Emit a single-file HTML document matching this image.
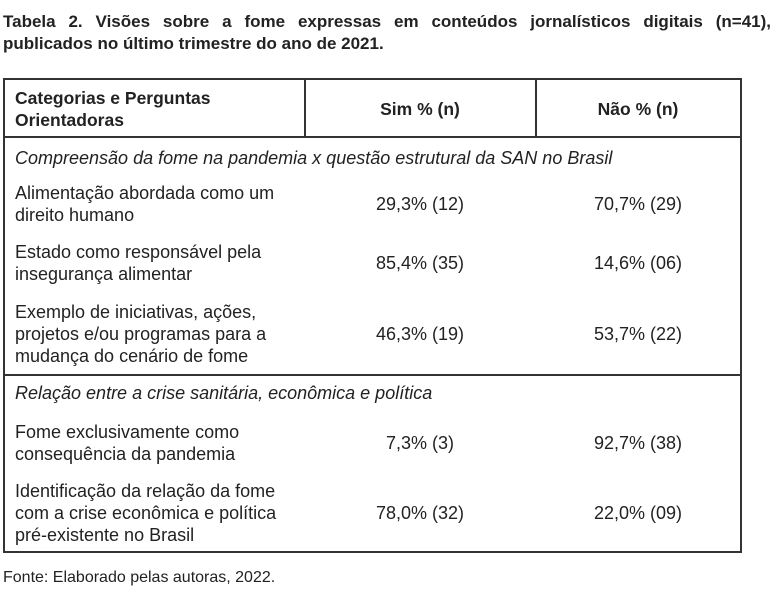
<!DOCTYPE html>
<html><head><meta charset="utf-8"><style>
body{margin:0;width:778px;height:614px;background:#fff;font-family:"Liberation Sans",sans-serif;color:#222;position:relative;overflow:hidden}
.a{position:absolute;white-space:nowrap}
.t{font-size:17px;font-weight:bold;line-height:22px}
.b{font-size:18px;line-height:22px}
.c{text-align:center;width:220px}
.l{position:absolute;background:#333}
</style></head><body>
<div class="a t" style="left:3px;top:11px;width:768px;text-align:justify;text-align-last:justify;white-space:normal">Tabela 2. Visões sobre a fome expressas em conteúdos jornalísticos digitais (n=41),</div>
<div class="a t" style="left:3px;top:33px">publicados no último trimestre do ano de 2021.</div>

<div class="l" style="left:3px;top:78px;width:739px;height:2px"></div>
<div class="l" style="left:3px;top:136px;width:739px;height:2px"></div>
<div class="l" style="left:3px;top:374px;width:739px;height:2px"></div>
<div class="l" style="left:3px;top:551px;width:739px;height:2px"></div>
<div class="l" style="left:3px;top:78px;width:2px;height:475px"></div>
<div class="l" style="left:740px;top:78px;width:2px;height:475px"></div>
<div class="l" style="left:304px;top:78px;width:2px;height:60px"></div>
<div class="l" style="left:535px;top:78px;width:2px;height:60px"></div>

<div class="a t" style="left:15px;top:87px;font-size:17.5px">Categorias e Perguntas<br>Orientadoras</div>
<div class="a t c" style="left:310px;top:98px;font-size:17.5px">Sim % (n)</div>
<div class="a t c" style="left:528px;top:98px;font-size:17.5px">Não % (n)</div>

<div class="a b" style="left:15px;top:147px;font-style:italic">Compreensão da fome na pandemia x questão estrutural da SAN no Brasil</div>

<div class="a b" style="left:15px;top:182px">Alimentação abordada como um<br>direito humano</div>
<div class="a b c" style="left:310px;top:193px">29,3% (12)</div>
<div class="a b c" style="left:528px;top:193px">70,7% (29)</div>

<div class="a b" style="left:15px;top:241px">Estado como responsável pela<br>insegurança alimentar</div>
<div class="a b c" style="left:310px;top:252px">85,4% (35)</div>
<div class="a b c" style="left:528px;top:252px">14,6% (06)</div>

<div class="a b" style="left:15px;top:301px">Exemplo de iniciativas, ações,<br>projetos e/ou programas para a<br>mudança do cenário de fome</div>
<div class="a b c" style="left:310px;top:323px">46,3% (19)</div>
<div class="a b c" style="left:528px;top:323px">53,7% (22)</div>

<div class="a b" style="left:15px;top:382px;font-style:italic">Relação entre a crise sanitária, econômica e política</div>

<div class="a b" style="left:15px;top:421px">Fome exclusivamente como<br>consequência da pandemia</div>
<div class="a b c" style="left:310px;top:432px">7,3% (3)</div>
<div class="a b c" style="left:528px;top:432px">92,7% (38)</div>

<div class="a b" style="left:15px;top:480px">Identificação da relação da fome<br>com a crise econômica e política<br>pré-existente no Brasil</div>
<div class="a b c" style="left:310px;top:502px">78,0% (32)</div>
<div class="a b c" style="left:528px;top:502px">22,0% (09)</div>

<div class="a" style="left:3px;top:569px;font-size:16px">Fonte: Elaborado pelas autoras, 2022.</div>
</body></html>
